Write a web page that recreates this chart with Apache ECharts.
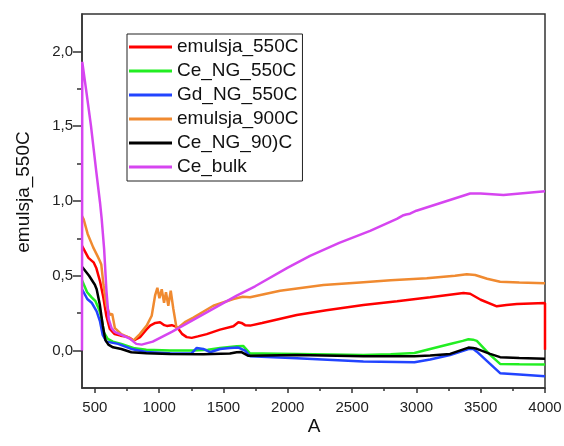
<!DOCTYPE html>
<html>
<head>
<meta charset="utf-8">
<script src="https://cdn.jsdelivr.net/npm/echarts@6/dist/echarts.min.js"></script>
<style>
  html, body { margin: 0; padding: 0; background: #fff; }
  #chart { width: 564px; height: 446px; }
</style>
</head>
<body>
<div id="chart"></div>
<script>
const FONT = '"Liberation Sans", Arial, sans-serif'

const SERIES_NAMES = ['emulsja_550C', 'Ce_NG_550C', 'Gd_NG_550C', 'emulsja_900C', 'Ce_NG_90)C', 'Ce_bulk']
const SERIES_COLORS = ['#ff0000', '#22ee22', '#2244ff', '#f08a30', '#000000', '#d645f0']

const X_MAJOR = [500, 1000, 1500, 2000, 2500, 3000, 3500, 4000]
const X_MINOR = [750, 1250, 1750, 2250, 2750, 3250, 3750]
const Y_MAJOR = [0, 0.5, 1, 1.5, 2]
const Y_MINOR = [0.25, 0.75, 1.25, 1.75]

const emulsja550 = [
    [400, 0.70], [410, 0.69], [450, 0.62], [490, 0.59], [512, 0.55], [541, 0.46], [565, 0.36],
    [590, 0.23], [616, 0.145], [654, 0.11], [700, 0.10], [740, 0.095], [770, 0.085], [800, 0.067],
    [851, 0.09], [900, 0.14], [930, 0.167], [970, 0.185], [1007, 0.19], [1040, 0.17], [1060, 0.165],
    [1098, 0.17], [1130, 0.16], [1150, 0.145], [1180, 0.11], [1214, 0.09], [1253, 0.085], [1300, 0.095],
    [1370, 0.11], [1473, 0.14], [1577, 0.163], [1616, 0.19], [1640, 0.185], [1668, 0.17], [1707, 0.167],
    [1800, 0.185], [2070, 0.238], [2300, 0.27], [2588, 0.305], [2850, 0.33], [3107, 0.356],
    [3366, 0.385], [3418, 0.38], [3500, 0.34], [3625, 0.296], [3700, 0.305], [3781, 0.311],
    [4000, 0.318], [4000, 0.005],
]
const ceNg550 = [
    [400, 0.47], [410, 0.46], [440, 0.39], [475, 0.356], [505, 0.33], [535, 0.27], [553, 0.21],
    [571, 0.12], [600, 0.078], [640, 0.06], [706, 0.045], [810, 0.015], [900, 0.005], [1084, 0.0],
    [1266, 0.0], [1380, 0.005], [1473, 0.018], [1603, 0.029], [1655, 0.03], [1707, -0.02],
    [1800, -0.02], [2070, -0.022], [2588, -0.029], [2800, -0.025], [2985, -0.016], [3107, 0.011],
    [3262, 0.044], [3360, 0.065], [3405, 0.076], [3440, 0.073], [3470, 0.065], [3573, -0.029],
    [3651, -0.089], [3800, -0.091], [4000, -0.093],
]
const gdNg550 = [
    [400, 0.41], [410, 0.40], [441, 0.345], [475, 0.32], [514, 0.262], [540, 0.195], [561, 0.105],
    [590, 0.06], [680, 0.045], [783, 0.011], [900, -0.01], [1100, -0.02], [1250, -0.02],
    [1292, 0.018], [1343, 0.011], [1395, -0.011], [1473, 0.011], [1551, 0.018], [1616, 0.02],
    [1668, 0.0], [1707, -0.038], [2070, -0.051], [2588, -0.073], [2985, -0.078], [3107, -0.06],
    [3262, -0.029], [3405, 0.011], [3440, 0.013], [3470, -0.007], [3573, -0.089], [3651, -0.151],
    [3800, -0.16], [4000, -0.172],
]
const emulsja900 = [
    [400, 0.90], [412, 0.88], [444, 0.78], [487, 0.69], [519, 0.635], [538, 0.60], [550, 0.575],
    [567, 0.44], [590, 0.30], [617, 0.24], [635, 0.245], [645, 0.20], [656, 0.15], [706, 0.11],
    [758, 0.09], [799, 0.067], [850, 0.11], [903, 0.167], [942, 0.233], [968, 0.367], [986, 0.42],
    [1002, 0.35], [1020, 0.41], [1038, 0.32], [1053, 0.39], [1071, 0.30], [1090, 0.40], [1110, 0.28],
    [1136, 0.145], [1200, 0.19], [1266, 0.22], [1421, 0.30], [1577, 0.345], [1650, 0.36],
    [1707, 0.356], [1940, 0.40], [2277, 0.438], [2562, 0.456], [2800, 0.47], [3081, 0.483],
    [3300, 0.50], [3392, 0.51], [3457, 0.505], [3550, 0.48], [3651, 0.46], [3800, 0.455], [4000, 0.45],
]
const ceNg900 = [
    [400, 0.56], [410, 0.556], [455, 0.50], [500, 0.44], [514, 0.41], [538, 0.31], [562, 0.165],
    [582, 0.07], [605, 0.04], [641, 0.022], [706, 0.011], [783, -0.011], [900, -0.018], [1084, -0.022],
    [1343, -0.025], [1550, -0.02], [1603, -0.011], [1640, -0.01], [1694, -0.035], [1707, -0.029],
    [2070, -0.029], [2588, -0.038], [2985, -0.038], [3107, -0.033], [3262, -0.022], [3405, 0.02],
    [3440, 0.018], [3470, 0.012], [3573, -0.022], [3651, -0.044], [3800, -0.05], [4000, -0.055],
]
const ceBulk = [
    [400, 0.0], [402, 1.93], [410, 1.92], [431, 1.75], [470, 1.50], [512, 1.19], [540, 0.99],
    [553, 0.88], [572, 0.68], [590, 0.40], [608, 0.21], [630, 0.15], [654, 0.125], [719, 0.10],
    [771, 0.08], [822, 0.045], [864, 0.04], [950, 0.06], [1098, 0.125], [1380, 0.26], [1603, 0.367],
    [1746, 0.43], [2000, 0.555], [2173, 0.633], [2400, 0.72], [2640, 0.80], [2848, 0.88],
    [2900, 0.905], [2920, 0.91], [2950, 0.915], [3000, 0.935], [3200, 0.99], [3418, 1.05],
    [3500, 1.05], [3677, 1.04], [4000, 1.065],
]
const SERIES_DATA = [emulsja550, ceNg550, gdNg550, emulsja900, ceNg900, ceBulk]

const AXIS_COLOR = '#333'
const axisLineStyle = { color: AXIS_COLOR, width: 1.5 }

const chart = echarts.init(document.getElementById('chart'), undefined, { renderer: 'canvas' })

const option = {
    animation: false,
    grid: {
        left: 82, right: 19, top: 14, bottom: 58,
        outerBoundsMode: 'none',
        containLabel: false,
        show: true, borderColor: AXIS_COLOR, borderWidth: 1.5,
    },
    legend: {
        orient: 'vertical',
        left: 127,
        top: 34,
        icon: 'rect',
        itemWidth: 43,
        itemHeight: 3,
        itemGap: 4,
        padding: [3, 4, 4, 2],
        borderColor: '#222',
        borderWidth: 1,
        textStyle: { fontSize: 19, lineHeight: 20, color: '#111', fontFamily: FONT },
        data: SERIES_NAMES,
    },
    xAxis: [
        {
            type: 'value',
            min: 400,
            max: 4000,
            axisLine: { show: true, onZero: false, lineStyle: axisLineStyle },
            axisTick: { show: true, length: 5, customValues: X_MAJOR, lineStyle: axisLineStyle },
            axisLabel: {
                customValues: X_MAJOR, fontSize: 15, margin: 12, color: '#222', fontFamily: FONT,
                formatter: (v) => String(v),
            },
            splitLine: { show: false },
        },
        {
            type: 'value',
            min: 400,
            max: 4000,
            position: 'bottom',
            offset: 0,
            axisLine: { show: false, onZero: false },
            axisTick: { show: true, length: 3, customValues: X_MINOR, lineStyle: axisLineStyle },
            axisLabel: { show: false },
            splitLine: { show: false },
        },
    ],
    yAxis: [
        {
            type: 'value',
            min: -0.25,
            max: 2.25,
            axisLine: { show: true, onZero: false, lineStyle: axisLineStyle },
            axisTick: { show: true, length: 9, customValues: Y_MAJOR, lineStyle: axisLineStyle },
            axisLabel: {
                customValues: Y_MAJOR, fontSize: 15, margin: 9, color: '#222', fontFamily: FONT,
                formatter: (v) => v.toFixed(1).replace('.', ','),
            },
            splitLine: { show: false },
        },
        {
            type: 'value',
            min: -0.25,
            max: 2.25,
            position: 'left',
            offset: 0,
            axisLine: { show: false, onZero: false },
            axisTick: { show: true, length: 5, customValues: Y_MINOR, lineStyle: axisLineStyle },
            axisLabel: { show: false },
            splitLine: { show: false },
        },
    ],
    graphic: [
        {
            type: 'text',
            x: 24, y: 192, rotation: Math.PI / 2,
            style: {
                text: 'emulsja_550C', fontSize: 19, fontFamily: FONT, fill: '#111',
                align: 'center', verticalAlign: 'middle',
            },
        },
        {
            type: 'text',
            x: 314, y: 427,
            style: {
                text: 'A', fontSize: 19, fontFamily: FONT, fill: '#111',
                align: 'center', verticalAlign: 'middle',
            },
        },
    ],
    series: SERIES_NAMES.map((name, i) => ({
        name,
        type: 'line',
        data: SERIES_DATA[i],
        showSymbol: false,
        symbol: 'none',
        color: SERIES_COLORS[i],
        lineStyle: { width: 2.5, color: SERIES_COLORS[i] },
        emphasis: { disabled: true },
    })),
}

chart.setOption(option)
</script>
</body>
</html>
